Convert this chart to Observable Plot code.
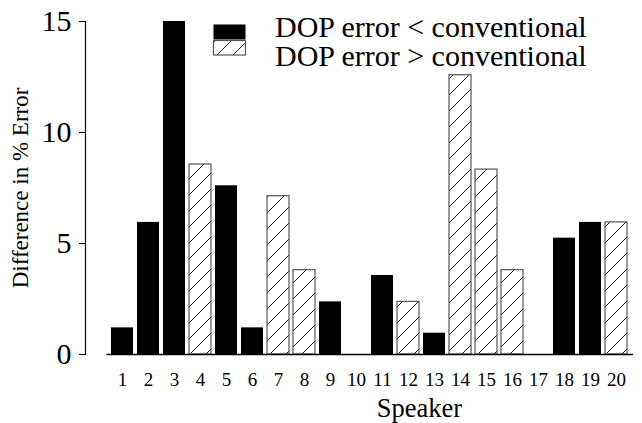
<!DOCTYPE html>
<html>
<head>
<meta charset="utf-8">
<script src="https://cdn.jsdelivr.net/npm/d3@7"></script>
<script src="https://cdn.jsdelivr.net/npm/@observablehq/plot@0.6"></script>
<style>
  html, body { margin: 0; padding: 0; background: white; }
  #wrap { position: relative; width: 642px; height: 423px; font-family: "Liberation Serif", "DejaVu Serif", serif; }
  #legend { position: absolute; left: 0; top: 0; pointer-events: none; }
</style>
</head>
<body>
<div id="wrap"></div>
<script>
const speakers = ["1","2","3","4","5","6","7","8","9","10","11","12","13","14","15","16","17","18","19","20"];
const values = [1.2, 5.95, 15.0, 8.56, 7.6, 1.2, 7.13, 3.8, 2.37, 0, 3.56, 2.37, 0.96, 12.58, 8.33, 3.8, 0, 5.24, 5.95, 5.95];
const types = ["lower","lower","lower","higher","lower","lower","higher","higher","lower","none",
               "lower","higher","lower","higher","higher","higher","none","lower","lower","higher"];
const yTicks = [0, 5, 10, 15];
const legendLabels = ["DOP error < conventional", "DOP error > conventional"];
const xTitle = "Speaker";
const yTitle = "Difference in % Error";

const data = speakers.map((s, i) => ({speaker: s, value: values[i], type: types[i]}));
const font = '"Liberation Serif", "DejaVu Serif", serif';

const chart = Plot.plot({
  width: 642,
  height: 423,
  marginLeft: 85,
  marginRight: 9,
  marginTop: 21,
  marginBottom: 69,
  style: {fontFamily: font, background: "white", color: "black"},
  x: {type: "band", domain: speakers, paddingInner: 0.14, paddingOuter: 0.07, insetLeft: 23.2, insetRight: 2.7},
  y: {domain: [0, 15]},
  marks: [
    Plot.barY(data.filter(d => d.type === "lower"), {x: "speaker", y: "value", fill: "black"}),
    Plot.barY(data.filter(d => d.type === "higher"), {x: "speaker", y: "value", fill: "url(#hatch)", stroke: "#555", strokeWidth: 1.2}),
    Plot.ruleY([0], {insetLeft: 21.5, stroke: "black", strokeWidth: 1.5}),
    Plot.frame({anchor: "left", stroke: "black", strokeWidth: 1.2}),
    Plot.axisY({ticks: yTicks, tickSize: 6, tickPadding: 8, fontSize: 30, label: null}),
    Plot.axisX({tickSize: 0, tickPadding: 18, fontSize: 19, label: null}),
    Plot.text([yTitle], {text: d => d, frameAnchor: "left", textAnchor: "middle", rotate: -90, dx: -65, fontSize: 23}),
    Plot.text([xTitle], {text: d => d, frameAnchor: "bottom", textAnchor: "middle", dx: 60, dy: 62, lineAnchor: "bottom", fontSize: 26.5})
  ]
});

d3.select(chart).insert("defs", ":first-child").html(
  `<pattern id="hatch" patternUnits="userSpaceOnUse" width="16" height="16">
     <rect width="16" height="16" fill="white"/>
     <path d="M-4,4 L4,-4 M0,16 L16,0 M12,20 L20,12" stroke="#222" stroke-width="1"/>
   </pattern>`
);

const wrap = document.getElementById("wrap");
wrap.appendChild(chart);

// legend overlay
const leg = d3.select(wrap).append("svg").attr("id", "legend").attr("width", 642).attr("height", 423)
  .style("font-family", font);
leg.append("rect").attr("x", 213.5).attr("y", 24.5).attr("width", 32).attr("height", 15).attr("fill", "black");
leg.append("rect").attr("x", 213.5).attr("y", 40.5).attr("width", 32).attr("height", 14.5)
  .attr("fill", "url(#hatch)").attr("stroke", "#555").attr("stroke-width", 1.2);
leg.selectAll("text.lab").data(legendLabels).join("text").attr("class", "lab")
  .attr("x", 275).attr("y", (d, i) => 36.5 + i * 29.5)
  .attr("font-size", 30).attr("fill", "black").text(d => d);
</script>
</body>
</html>
